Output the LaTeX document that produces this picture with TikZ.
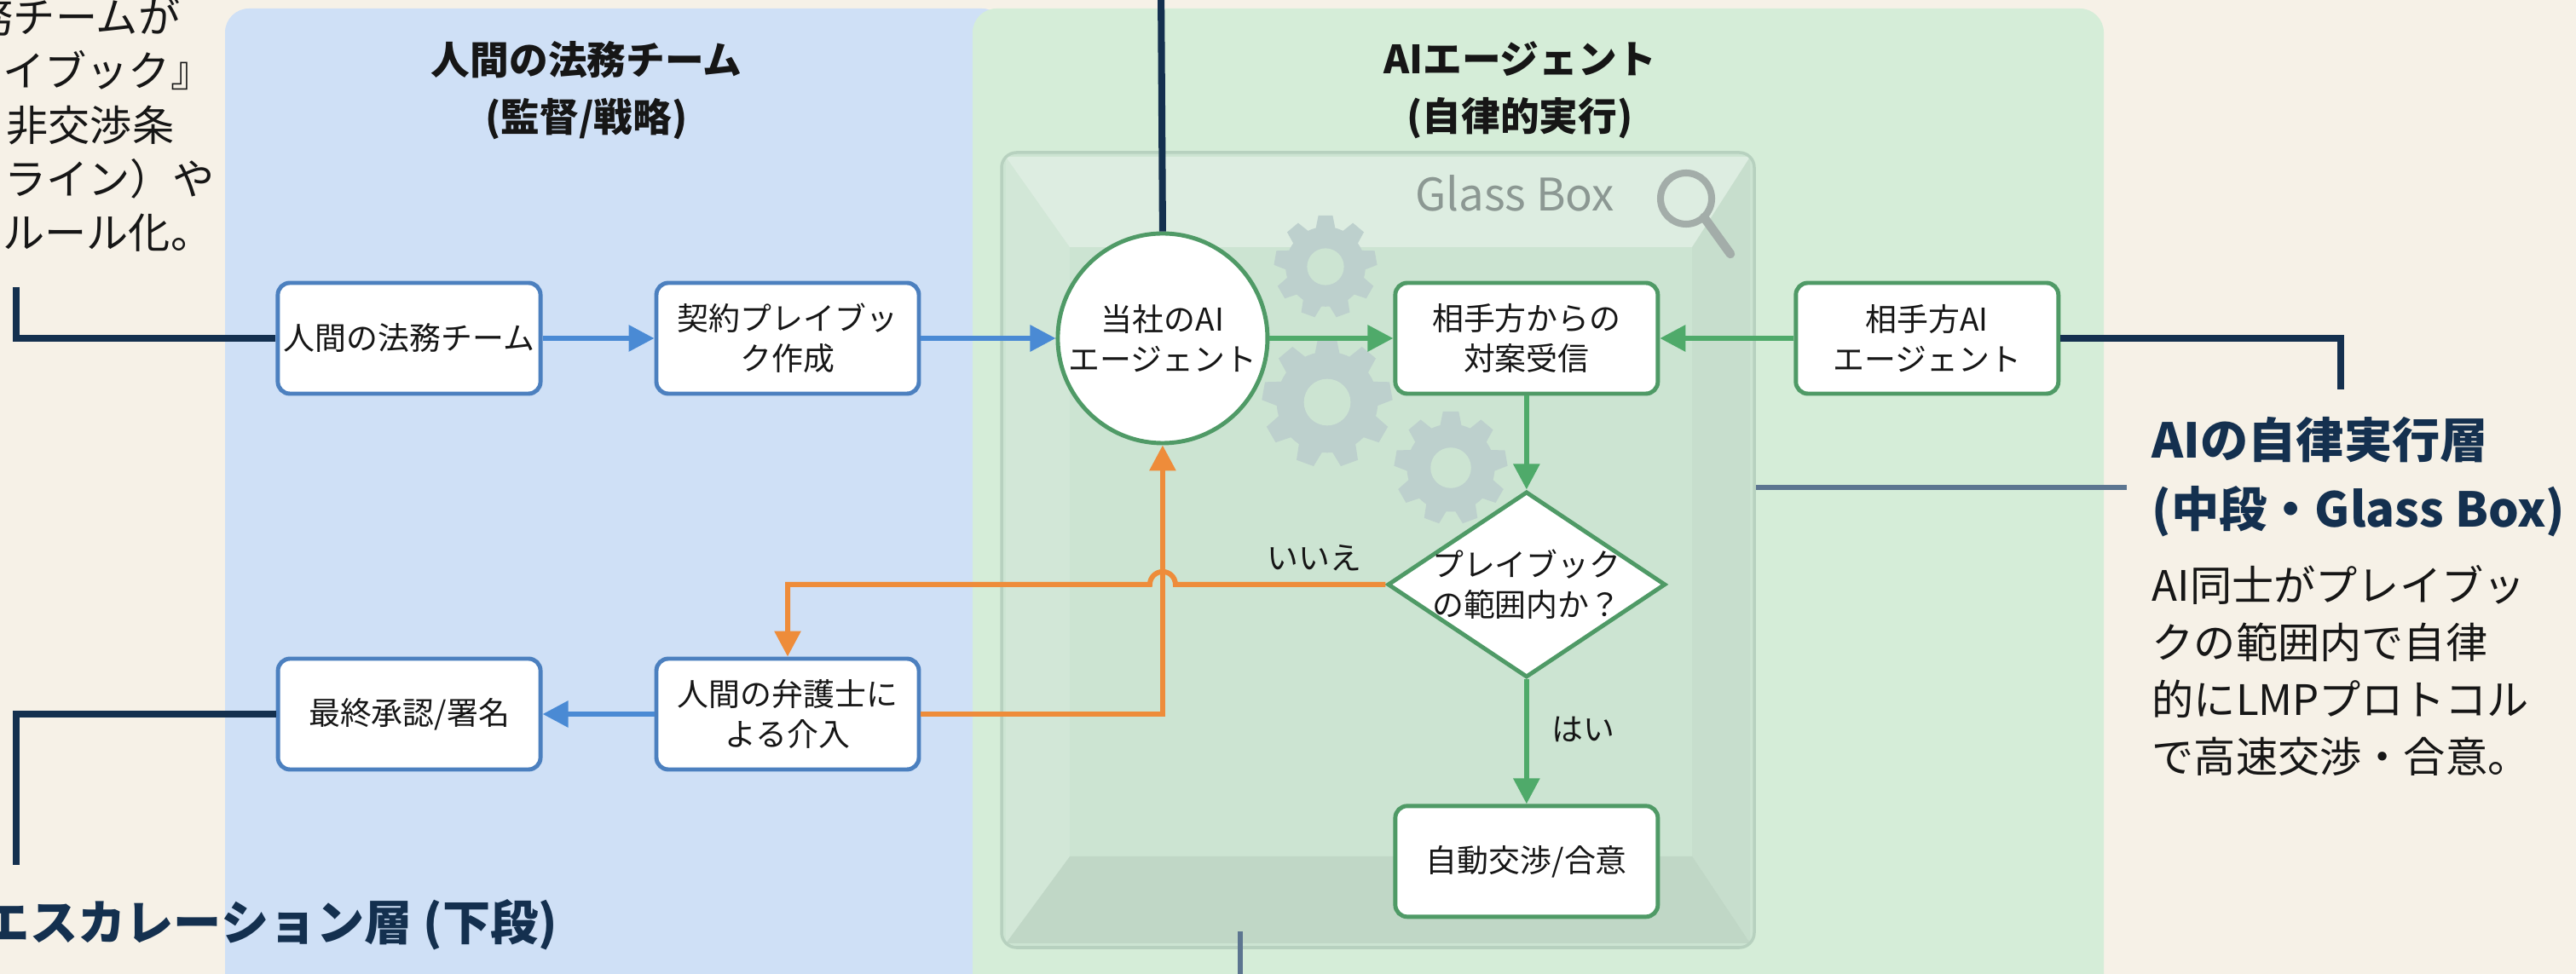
\documentclass[tikz,border=0pt]{standalone}
\usepackage{fontspec}
\setmainfont{Noto Sans CJK JP}
\usetikzlibrary{arrows.meta,positioning,shapes.geometric,calc}
\definecolor{cream}{HTML}{F6F1E7}
\definecolor{humanbg}{HTML}{CFE0F6}
\definecolor{aibg}{HTML}{D5EDD8}
\definecolor{glassbg}{HTML}{CCE4D2}
\definecolor{glassedge}{HTML}{B7D1BF}
\definecolor{gearc}{HTML}{BDD0CD}
\definecolor{navy}{HTML}{14304F}
\definecolor{slate}{HTML}{5C7590}
\definecolor{hblue}{HTML}{4C80BF}
\definecolor{flowblue}{HTML}{4A8AD4}
\definecolor{agreen}{HTML}{4F9A66}
\definecolor{flowgreen}{HTML}{4FAA6A}
\definecolor{esc}{HTML}{EE8C3A}
\definecolor{muted}{HTML}{8C9893}
\definecolor{ink}{HTML}{161616}
\tikzset{
  box/.style={rectangle,rounded corners=4pt,draw=hblue,fill=white,line width=1.4pt,
              text=ink,align=center,font=\fontsize{10.5}{13.5}\selectfont,inner sep=2pt,
              minimum width=30.8mm,minimum height=13mm},
  gbox/.style={box,draw=agreen},
  aicirc/.style={circle,draw=agreen,fill=white,line width=1.4pt,text=ink,align=center,
              font=\fontsize{10.5}{13.5}\selectfont,minimum size=24.6mm,inner sep=0pt},
  decision/.style={diamond,draw=agreen,fill=white,line width=1.4pt,
              minimum width=32.6mm,minimum height=21.8mm,inner sep=0pt},
  fl/.style={-{Triangle[length=3mm,width=3mm]},line width=1.7pt,draw=flowblue},
  flg/.style={fl,draw=flowgreen},
  flo/.style={fl,draw=esc},
  call/.style={line width=2.3pt,draw=navy},
  calls/.style={line width=1.7pt,draw=slate},
  lbl/.style={font=\fontsize{10.5}{13.5}\selectfont,text=ink},
  ptitle/.style={font=\fontsize{13}{19}\selectfont\bfseries,text=ink,align=center},
  ltitle/.style={font=\fontsize{16}{23}\selectfont\bfseries,text=navy,align=left,inner sep=0pt},
  note/.style={font=\fontsize{14}{19}\selectfont,text=ink,align=left,inner sep=0pt},
  gear/.pic={
    \fill[gearc] (0,0) circle (0.78);
    \foreach \a in {0,40,...,320}
      \fill[gearc,rotate=\a] (-0.2,0.7) -- (-0.14,1) -- (0.14,1) -- (0.2,0.7) -- cycle;
    \fill[glassbg] (0,0) circle (0.36);
  },
}

\begin{document}
\begin{tikzpicture}
\useasboundingbox (0,0) rectangle (30.22,11.43);
\fill[cream] (0,0) rectangle (30.22,11.43);

% two lanes
\fill[humanbg,rounded corners=8pt] (2.64,-0.5) rectangle (11.8,11.33);
\fill[aibg,rounded corners=8pt] (11.41,-0.5) rectangle (24.68,11.33);
\node[ptitle] (htitle) at (6.88,10.37) {人間の法務チーム\\(監督/戦略)};
\node[ptitle] (atitle) at (17.83,10.37) {AIエージェント\\(自律的実行)};

% glass box with bevelled walls
\fill[glassbg,rounded corners=5pt] (11.75,0.31) rectangle (20.58,9.64);
\fill[white,opacity=0.35] (11.80,9.59) -- (20.53,9.59) -- (19.85,8.53) -- (12.55,8.53) -- cycle;
\fill[black!40!glassbg,opacity=0.14] (11.80,0.36) -- (20.53,0.36) -- (19.85,1.38) -- (12.55,1.38) -- cycle;
\fill[white,opacity=0.12] (11.80,0.36) -- (12.55,1.38) -- (12.55,8.53) -- (11.80,9.59) -- cycle;
\fill[black!40!glassbg,opacity=0.06] (20.53,0.36) -- (19.85,1.38) -- (19.85,8.53) -- (20.53,9.59) -- cycle;
\draw[glassedge,line width=1pt,rounded corners=5pt] (11.75,0.31) rectangle (20.58,9.64);
\pic[scale=0.6] (g1) at (15.55,8.30) {gear};
\pic[scale=0.76] (g2) at (15.57,6.71) {gear};
\pic[scale=0.66] (g3) at (17.02,5.94) {gear};
\node[font=\fontsize{15}{18}\selectfont,text=muted] (gblabel) at (17.77,9.16) {Glass Box};
\draw[muted!80,line width=2.3pt] (19.78,9.10) circle (0.3);
\draw[muted!80,line width=3pt,line cap=round] (19.99,8.88) -- (20.30,8.45);

% flow
\node[box] (legal) at (4.80,7.46) {人間の法務チーム};
\node[box,right=13.1mm of legal] (pbook) {契約プレイブッ\\ク作成};
\node[aicirc,right=15.8mm of pbook] (ai) {当社のAI\\エージェント};
\node[gbox,right=14.5mm of ai] (counter) {相手方からの\\対案受信};
\node[gbox,right=15.7mm of counter] (opp) {相手方AI\\エージェント};
\node[decision,below=11mm of counter,label={[lbl,align=center]center:{プレイブック\\の範囲内か？}}] (check) {};
\node[gbox,below=14.6mm of check] (auto) {自動交渉/合意};
\coordinate (lowrow) at (0,3.05);
\node[box] (lawyer) at (pbook |- lowrow) {人間の弁護士に\\よる介入};
\node[box,left=13.1mm of lawyer] (final) {最終承認/署名};

\draw[fl] (legal) -- (pbook);
\draw[fl] (pbook) -- (ai);
\draw[flg] (ai) -- (counter);
\draw[flg] (opp) -- (counter);
\draw[flg] (counter) -- (check);
\draw[flg] (check) -- node[lbl,right=1.5mm,pos=0.4] (yes) {はい} (auto);
\draw[fl] (lawyer) -- (final);
\draw[flo] (lawyer.east) -| (ai.south);
\draw[flo] (check.west) -- ($(ai.south |- check.west)+(0.15,0)$)
  arc[start angle=0,end angle=180,radius=0.15] -- (lawyer.north |- check.west) -- (lawyer.north);
\node[lbl] (no) at (15.42,4.88) {いいえ};

% callouts
\coordinate (tlc) at (0.19,8.06);
\coordinate (blc) at (0.19,1.28);
\coordinate (topc) at (13.62,11.6);
\coordinate (rtc) at (27.46,6.86);
\coordinate (gbr) at (20.60,5.71);
\coordinate (rsc) at (24.95,5.71);
\coordinate (bmt) at (14.55,0.50);
\coordinate (bmb) at (14.55,-0.2);
\draw[call] (tlc) |- (legal.west);
\draw[call] (final.west) -| (blc);
\draw[call] (topc) -- (ai.north);
\draw[call] (opp.east) -| (rtc);
\draw[calls] (gbr) -- (rsc);
\draw[calls] (bmt) -- (bmb);

\foreach \t/\x/\y [count=\i] in {務チームが/2.12/11.23, イブック』/2.50/10.60, 非交渉条/2.05/9.96, ライン）や/2.52/9.33, ルール化。/2.50/8.70}
  \node[note,anchor=east] (tl\i) at (\x,\y) {\t};
\node[ltitle,anchor=west] (laytitle) at (25.24,5.83) {AIの自律実行層\\(中段・Glass Box)};
\node[note,anchor=west] (laynote) at (25.24,3.56) {AI同士がプレイブッ\\クの範囲内で自律\\的にLMPプロトコル\\で高速交渉・合意。};
\node[ltitle,anchor=east] (esctitle) at (6.55,0.58) {エスカレーション層 (下段)};
\end{tikzpicture}
\end{document}
